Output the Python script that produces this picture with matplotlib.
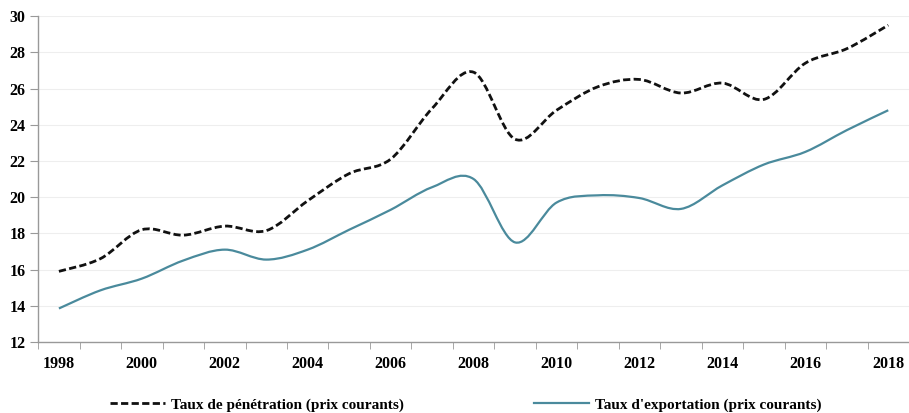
import matplotlib.pyplot as plt
import numpy as np
from matplotlib.lines import Line2D
from matplotlib.patches import PathPatch
from matplotlib.path import Path

# --- Data ---
years = list(range(1998, 2019))
penetration = [15.9, 16.6, 18.2, 17.9, 18.4, 18.15, 19.8, 21.3, 22.1, 24.9, 26.9,
               23.2, 24.8, 26.1, 26.5, 25.75, 26.3, 25.4, 27.4, 28.2, 29.5]
exportation = [13.85, 14.85, 15.5, 16.5, 17.1, 16.55, 17.1, 18.2, 19.3, 20.55, 21.0,
               17.5, 19.7, 20.1, 19.95, 19.35, 20.65, 21.8, 22.5, 23.7, 24.8]
year_labels = [str(y) if y % 2 == 0 else "" for y in years]

label_pen = "Taux de pénétration (prix courants)"
label_exp = "Taux d'exportation (prix courants)"


def smooth_path(x, y):
    """Excel-style smoothed line: cubic Bezier through every point."""
    pts = np.column_stack([x, y]).astype(float)
    n = len(pts)
    verts = [pts[0]]
    codes = [Path.MOVETO]
    for i in range(n - 1):
        p0 = pts[i - 1] if i > 0 else pts[i]
        p1, p2 = pts[i], pts[i + 1]
        p3 = pts[i + 2] if i + 2 < n else pts[i + 1]
        c1 = p1 + (p2 - p0) / 6.0
        c2 = p2 - (p3 - p1) / 6.0
        verts += [c1, c2, p2]
        codes += [Path.CURVE4] * 3
    return Path(verts, codes)


plt.rcParams["font.family"] = ["Liberation Serif", "DejaVu Serif"]
plt.rcParams["font.weight"] = "bold"

fig = plt.figure(figsize=(9.09, 4.13), dpi=100)
ax = fig.add_axes([0.042, 0.172, 0.958, 0.789])

xpos = np.arange(len(years))
pen_color = "#111111"
exp_color = "#4a8a9c"
pen_dash = (0, (2.6, 1.2))

ax.add_patch(PathPatch(smooth_path(xpos, penetration), fill=False, edgecolor=pen_color,
                       lw=2.0, linestyle=pen_dash, capstyle="butt", zorder=3))
ax.add_patch(PathPatch(smooth_path(xpos, exportation), fill=False, edgecolor=exp_color,
                       lw=1.6, zorder=3))

ax.set_xlim(-0.5, len(years) - 0.5)
ax.set_ylim(12, 30)
ax.set_yticks(np.arange(12, 31, 2))
ax.grid(axis="y", color="#eeeeee", lw=0.8)
ax.set_axisbelow(True)

# category labels centred, tick marks between categories
ax.set_xticks(xpos)
ax.set_xticklabels(year_labels)
ax.set_xticks(np.arange(-0.5, len(years), 1), minor=True)
ax.tick_params(axis="x", which="major", length=0, pad=10, labelsize=11.5)
ax.tick_params(axis="x", which="minor", length=5, color="#999999", direction="out")
ax.tick_params(axis="y", length=6, color="#999999", labelsize=11.5, pad=3)

for side in ["top", "right"]:
    ax.spines[side].set_visible(False)
for side in ["left", "bottom"]:
    ax.spines[side].set_color("#999999")
    ax.spines[side].set_linewidth(1.0)

handles = [
    Line2D([], [], color=pen_color, lw=2.0, linestyle=pen_dash),
    Line2D([], [], color=exp_color, lw=1.6),
]
fig.legend(handles, [label_pen, label_exp], loc="center", ncol=2,
           bbox_to_anchor=(0.512, 0.02), frameon=False, fontsize=11,
           handlelength=3.6, handletextpad=0.4, columnspacing=8.5)

plt.savefig("out.png", dpi=100)
